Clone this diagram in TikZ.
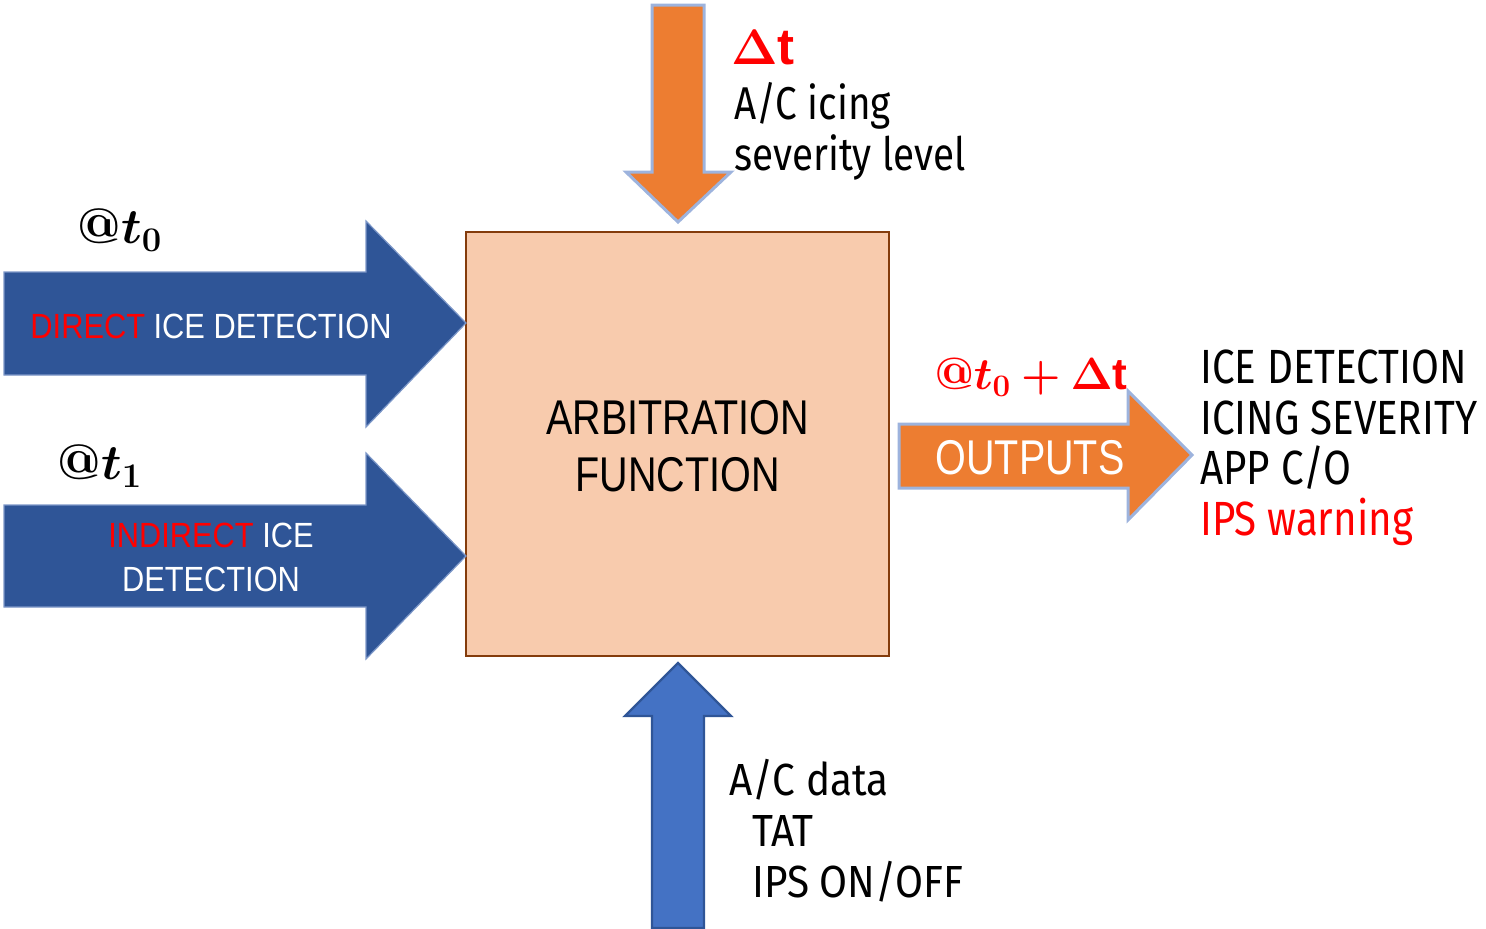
\documentclass[tikz,border=0pt]{standalone}
\usepackage{amsmath}
\usepackage{bm}
\usepackage{graphicx}
\usepackage{fontspec}
\setmainfont{Liberation Sans}
\newfontfamily\narrowA[FakeStretch=0.81]{Liberation Sans}
\newfontfamily\narrowB[FakeStretch=0.88]{Liberation Sans}
\newfontfamily\dinfont[FakeStretch=0.84]{Fira Sans}
\newfontfamily\dinfontw[FakeStretch=0.9]{Fira Sans}
\definecolor{aorange}{HTML}{ED7D31}
\definecolor{aoutline}{HTML}{9DB3DD}
\definecolor{darkblue}{HTML}{2F5597}
\definecolor{midblue}{HTML}{4472C4}
\definecolor{boxfill}{HTML}{F8CBAD}
\definecolor{boxline}{HTML}{843C0C}
\definecolor{ared}{HTML}{FF0000}
\tikzset{
  orangearrow/.style={fill=aorange, draw=aoutline, line width=1.5pt, line join=miter},
  bluearrow/.style={fill=darkblue, draw=aoutline!70!darkblue, line width=0.6pt},
  uparrow/.style={fill=midblue, draw=darkblue, line width=1.2pt},
  lbl/.style={inner sep=0pt, anchor=base west},
  mathlbl/.style={inner sep=0pt}
}
\begin{document}
\begin{tikzpicture}[x=0.5pt,y=-0.5pt]
\useasboundingbox (0,0) rectangle (1486,928);
% central box
\node[draw=boxline, fill=boxfill, line width=1.2pt, minimum width=211.5pt, minimum height=212pt, inner sep=0pt] (arb) at (677.5,444) {};
\node[inner sep=0pt, align=center, font=\narrowA\fontsize{24.4}{28.5}\selectfont] (arbtxt) at (677.5,446) {ARBITRATION\\FUNCTION};
% top orange arrow
\draw[orangearrow] (652,5) -- (704,5) -- (704,172) -- (731,172) -- (678,222) -- (626,172) -- (652,172) -- cycle;
% direct arrow
\draw[bluearrow] (4,272) -- (366,272) -- (366,221) -- (466,323) -- (366,427) -- (366,375) -- (4,375) -- cycle;
\node[inner sep=0pt, font=\narrowB\fontsize{17.5}{20}\selectfont] (direct) at (211,326) {\textcolor{ared}{DIRECT} \textcolor{white}{ICE DETECTION}};
% indirect arrow
\draw[bluearrow] (4,505) -- (366,505) -- (366,453) -- (466,556) -- (366,659) -- (366,607) -- (4,607) -- cycle;
\node[inner sep=0pt, align=center, font=\narrowB\fontsize{17.5}{22}\selectfont] (indirect) at (211,557) {\textcolor{ared}{INDIRECT} \textcolor{white}{ICE}\\\textcolor{white}{DETECTION}};
% outputs arrow
\draw[orangearrow] (899,424) -- (1128,424) -- (1128,391) -- (1192,455) -- (1128,520) -- (1128,488) -- (899,488) -- cycle;
\node[inner sep=0pt, text=white, font=\narrowA\fontsize{24.4}{28}\selectfont] (outputs) at (1030,458) {OUTPUTS};
% bottom blue arrow
\draw[uparrow] (652,928) -- (652,716) -- (625,716) -- (678,663) -- (731,716) -- (704,716) -- (704,928) -- cycle;
% labels
\node[mathlbl, text=ared, font=\fontsize{25.5}{30}\selectfont] (dt) at (763,48) {$\bm{\Delta}\mathbf{t}$};
\node[lbl, font=\dinfont\fontsize{23}{26}\selectfont] (icing1) at (734,119) {A/C icing};
\node[lbl, font=\dinfont\fontsize{23}{26}\selectfont] (icing2) at (734,170) {severity level};
\node[mathlbl, font=\fontsize{26}{30}\selectfont] (t0) at (120,230) {$\bm{@t_{\mathbf{0}}}$};
\node[mathlbl, font=\fontsize{26}{30}\selectfont] (t1) at (100,466) {$\bm{@t_{\mathbf{1}}}$};
\node[mathlbl, text=ared, font=\fontsize{24.5}{28}\selectfont] (t0dt) at (1031,377) {\scalebox{0.905}{$\bm{@t_{\mathbf{0}}+\Delta}\mathbf{t}$}};
\node[lbl, font=\dinfont\fontsize{24}{26}\selectfont] (o1) at (1200,383) {ICE DETECTION};
\node[lbl, font=\dinfont\fontsize{24}{26}\selectfont] (o2) at (1200,434) {ICING SEVERITY};
\node[lbl, font=\dinfont\fontsize{24}{26}\selectfont] (o3) at (1200,484) {APP C/O};
\node[lbl, text=ared, font=\dinfont\fontsize{24}{26}\selectfont] (o4) at (1200,535) {IPS warning};
\node[lbl, font=\dinfontw\fontsize{22.5}{26}\selectfont] (d1) at (729,795) {A/C data};
\node[lbl, font=\dinfontw\fontsize{22.5}{26}\selectfont] (d2) at (752,846) {TAT};
\node[lbl, font=\dinfontw\fontsize{22.5}{26}\selectfont] (d3) at (752,897) {IPS ON/OFF};
\end{tikzpicture}
\end{document}
